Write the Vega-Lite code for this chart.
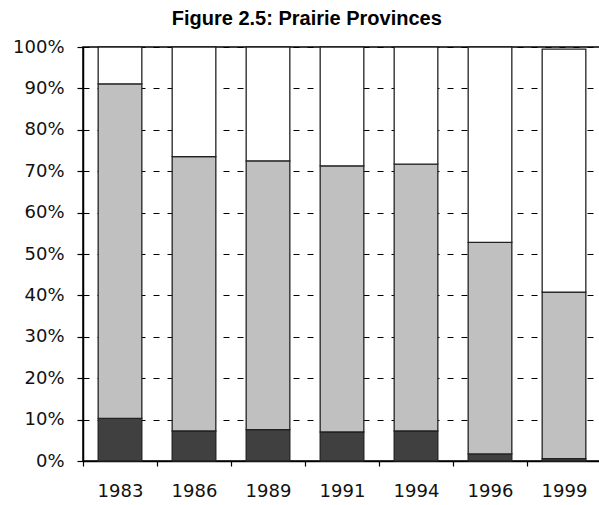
{
  "$schema": "https://vega.github.io/schema/vega-lite/v6.json",
  "autosize": {"type": "none"},
  "padding": {"left": 83, "top": 47, "right": 0, "bottom": 44},
  "width": 518,
  "height": 414,
  "background": "white",
  "title": {
    "text": "Figure 2.5: Prairie Provinces",
    "font": "Liberation Sans",
    "fontSize": 20,
    "fontWeight": "bold",
    "color": "#000",
    "anchor": "middle",
    "frame": "bounds",
    "offset": 9
  },
  "data": {
    "values": [
      {"year": "1983", "series": "Series 1", "value": 10.3},
      {"year": "1983", "series": "Series 2", "value": 80.8},
      {"year": "1983", "series": "Series 3", "value": 8.9},
      {"year": "1986", "series": "Series 1", "value": 7.25},
      {"year": "1986", "series": "Series 2", "value": 66.25},
      {"year": "1986", "series": "Series 3", "value": 26.5},
      {"year": "1989", "series": "Series 1", "value": 7.6},
      {"year": "1989", "series": "Series 2", "value": 64.9},
      {"year": "1989", "series": "Series 3", "value": 27.5},
      {"year": "1991", "series": "Series 1", "value": 7.0},
      {"year": "1991", "series": "Series 2", "value": 64.3},
      {"year": "1991", "series": "Series 3", "value": 28.7},
      {"year": "1994", "series": "Series 1", "value": 7.25},
      {"year": "1994", "series": "Series 2", "value": 64.45},
      {"year": "1994", "series": "Series 3", "value": 28.3},
      {"year": "1996", "series": "Series 1", "value": 1.7},
      {"year": "1996", "series": "Series 2", "value": 51.1},
      {"year": "1996", "series": "Series 3", "value": 47.2},
      {"year": "1999", "series": "Series 1", "value": 0.55},
      {"year": "1999", "series": "Series 2", "value": 40.25},
      {"year": "1999", "series": "Series 3", "value": 58.7}
    ]
  },
  "mark": {"type": "bar", "stroke": "#222", "strokeWidth": 1.3},
  "encoding": {
    "x": {
      "field": "year",
      "type": "nominal",
      "scale": {"paddingInner": 0.41, "paddingOuter": 0.205},
      "axis": {
        "title": null,
        "labelAngle": 0,
        "tickOffset": -37,
        "labelOffset": 37,
        "tickSize": 5,
        "labelPadding": 16,
        "labelFont": "DejaVu Sans",
        "labelFontSize": 18,
        "labelColor": "#111",
        "domainColor": "#000",
        "domainWidth": 1.5,
        "tickColor": "#000",
        "tickWidth": 1.2,
        "grid": false
      }
    },
    "y": {
      "field": "value",
      "type": "quantitative",
      "stack": "zero",
      "scale": {"domain": [0, 100], "nice": false},
      "axis": {
        "title": null,
        "values": [0, 10, 20, 30, 40, 50, 60, 70, 80, 90, 100],
        "labelExpr": "datum.value + '%'",
        "tickSize": 6,
        "labelPadding": 13,
        "labelFont": "DejaVu Sans",
        "labelFontSize": 18,
        "labelColor": "#111",
        "domainColor": "#000",
        "domainWidth": 1.5,
        "tickColor": "#000",
        "tickWidth": 1.2,
        "grid": true,
        "gridColor": "#000",
        "gridOpacity": 1,
        "gridWidth": 1,
        "gridDash": [6, 8]
      }
    },
    "color": {
      "field": "series",
      "type": "nominal",
      "scale": {"domain": ["Series 1", "Series 2", "Series 3"], "range": ["#404040", "#c0c0c0", "#ffffff"]},
      "legend": null
    },
    "order": {"field": "series", "sort": "ascending"}
  },
  "config": {
    "view": {"stroke": "#000", "strokeWidth": 1.5}
  }
}
